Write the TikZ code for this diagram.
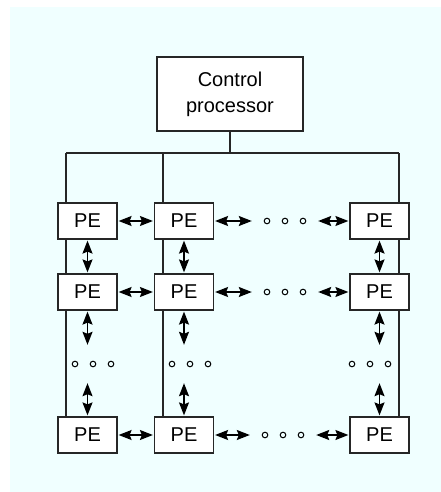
\documentclass[tikz,border=0pt]{standalone}
\usepackage{fontspec}
\setmainfont{Liberation Sans}
\usetikzlibrary{arrows.meta,backgrounds}
\definecolor{bgcyan}{RGB}{240,255,255}
\begin{document}
\begin{tikzpicture}[x=1pt,y=-1pt,
  box/.style={draw=black!85,line width=1.2pt,fill=white,inner sep=0pt,font=\fontsize{20}{26}\selectfont},
  pe/.style={box,minimum width=59pt,minimum height=36pt},
  bus/.style={draw=black!85,line width=1.2pt},
  link/.style={{Stealth[length=13pt,width=10pt,inset=2pt]}-{Stealth[length=13pt,width=10pt,inset=2pt]},line width=1.5pt,shorten <=1pt,shorten >=1pt},
  hdots/.style={inner sep=0pt,minimum width=64pt,minimum height=12pt,path picture={
    \foreach \i in {-18,0,18} \draw[line width=1pt] ([xshift=\i pt]path picture bounding box.center) circle (2.8pt);}},
  vdots/.style={hdots,minimum width=56pt,minimum height=36pt}]
\useasboundingbox (0,0) rectangle (441,492);
\node[box,minimum width=146pt,minimum height=74pt,align=center] (ctrl) at (230,94) {Control\\processor};
\node[pe] (pe11) at (87.5,221) {PE};
\node[pe] (pe12) at (184,221) {PE};
\node[pe] (pe13) at (379.5,221) {PE};
\node[pe] (pe21) at (87.5,292) {PE};
\node[pe] (pe22) at (184,292) {PE};
\node[pe] (pe23) at (379.5,292) {PE};
\node[pe] (pe31) at (87.5,435) {PE};
\node[pe] (pe32) at (184,435) {PE};
\node[pe] (pe33) at (379.5,435) {PE};
\node[hdots] (h1) at (285,221) {};
\node[hdots] (h2) at (285,292) {};
\node[hdots] (h3) at (283,435) {};
\node[vdots] (v1) at (93,364) {};
\node[vdots] (v2) at (190,364) {};
\node[vdots] (v3) at (370,364) {};
\coordinate (b1) at (66,153);
\coordinate (b2) at (163,153);
\coordinate (b3) at (399,153);
\begin{scope}[on background layer]
\fill[bgcyan] (10,7) rectangle (441,492);
\draw[bus] (ctrl.south) -- (ctrl.south |- b1);
\draw[bus] (b1) -- (b3);
\draw[bus] (b1) -- (b1 |- pe31.north);
\draw[bus] (b2) -- (b2 |- pe32.north);
\draw[bus] (b3) -- (b3 |- pe33.north);
\end{scope}
\draw[link] (pe11) -- (pe12);
\draw[link] (pe21) -- (pe22);
\draw[link] (pe31) -- (pe32);
\draw[link] (pe12) -- (pe12 -| h1.west);
\draw[link] (pe22) -- (pe22 -| h2.west);
\draw[link] (pe32) -- (pe32 -| h3.west);
\draw[link] (pe13 -| h1.east) -- (pe13);
\draw[link] (pe23 -| h2.east) -- (pe23);
\draw[link] (pe33 -| h3.east) -- (pe33);
\draw[link] (pe11) -- (pe21);
\draw[link] (pe12) -- (pe22);
\draw[link] (pe13) -- (pe23);
\draw[link] (pe21) -- (pe21 |- v1.north);
\draw[link] (pe22) -- (pe22 |- v2.north);
\draw[link] (pe23) -- (pe23 |- v3.north);
\draw[link] (pe31 |- v1.south) -- (pe31);
\draw[link] (pe32 |- v2.south) -- (pe32);
\draw[link] (pe33 |- v3.south) -- (pe33);
\end{tikzpicture}
\end{document}
